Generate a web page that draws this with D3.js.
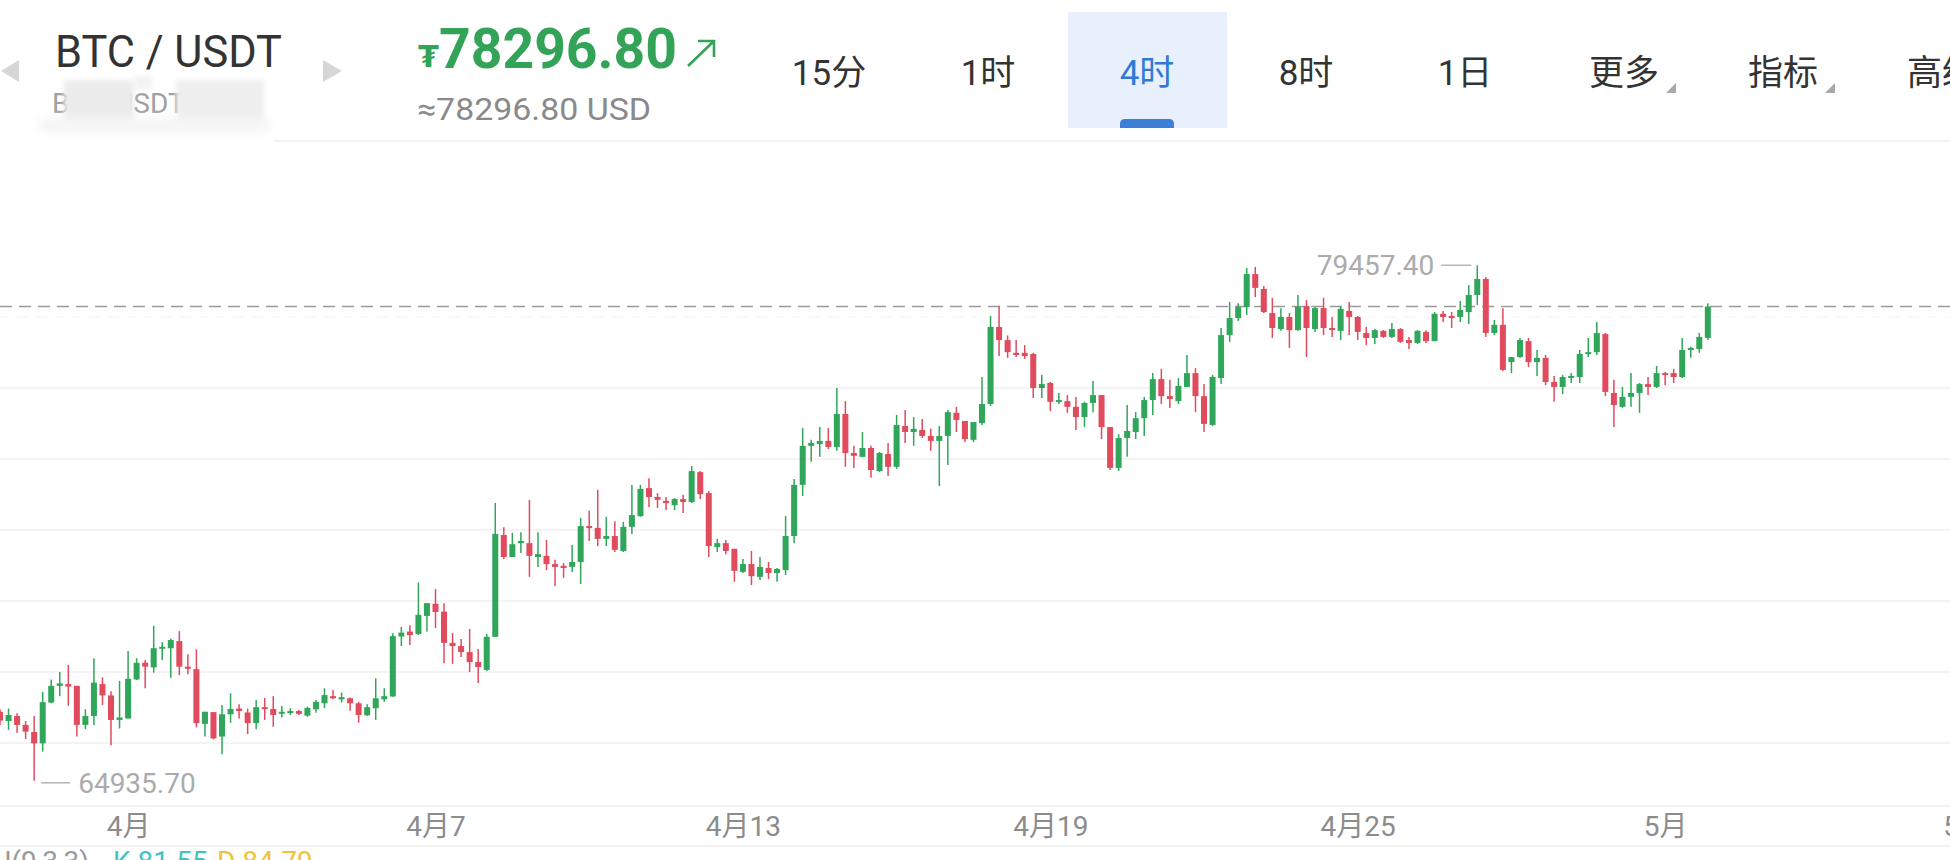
<!DOCTYPE html>
<html><head><meta charset="utf-8">
<script src="https://cdn.jsdelivr.net/npm/d3@7"></script>
<style>html,body{margin:0;padding:0;background:#fff;overflow:hidden}</style>
</head><body>
<svg id="chart" width="1950" height="860"></svg>
<script>
// ---------- DATA (4h candles, BTC/USDT) ----------
const openP = [
66880,66620,66760,66510,66310,65990,67140,67610,67660,67610,
66510,66760,67660,67340,66650,66690,67790,68260,68130,68660,
68670,68870,68150,68080,66540,66870,66180,66810,66970,66860,
66560,67010,66960,66840,66850,66900,66770,66950,67120,67320,
67230,67260,67120,66780,66980,67230,67310,69000,69140,69070,
69580,69920,69700,68820,68730,68560,68280,68060,68990,71860,
71240,71630,71630,71240,71270,71040,70990,70960,71100,72110,
72060,71750,71830,71410,72090,72390,73180,72930,72820,72700,
72870,72790,73630,73040,71520,71630,71470,70820,71040,70680,
70930,70790,70870,71830,73270,74370,74420,74510,74340,75270,
74170,74060,74310,73660,74140,73780,74930,74760,74820,74650,
74510,74650,75300,75070,74540,75010,75550,77720,77350,76990,
76990,76960,76000,76140,75610,75630,75470,75180,75580,75800,
74900,73750,74590,74760,75150,75660,76250,75770,75630,76030,
76420,75770,74960,76280,77490,77970,78280,79210,78790,78110,
77660,78000,77630,78310,77660,78250,77690,77610,78170,78000,
77550,77410,77610,77440,77660,77350,77270,77580,77320,78090,
78030,78000,78140,78620,79070,77550,77780,76730,76870,77320,
76730,76850,76170,76030,76280,76310,76960,77010,77520,75860,
75470,75750,75860,76110,76030,76420,76420,76310,77070,77100,
77410];
const highP = [
66950,66970,66840,66620,66760,67440,67790,68000,68200,67610,
66950,68390,67850,67460,67750,68590,68390,68340,69300,68840,
68940,69150,68500,68640,66880,66870,67070,67400,67090,66970,
67210,67270,67320,67040,66980,66930,67020,67210,67540,67490,
67420,67280,67160,67090,67820,67540,69090,69270,69320,70520,
69940,70340,69940,69100,68930,69210,68650,69070,72760,72080,
71920,71940,72845,71940,71720,71160,71070,71580,72340,72540,
73130,72370,72250,72230,73270,73270,73460,73040,72930,72900,
72990,73800,73660,73100,71750,71720,71470,71180,71410,71240,
71100,70930,72390,73440,74870,74540,74900,74870,76000,75630,
74370,74760,74370,74200,74450,75240,75380,75180,75130,74850,
74930,75380,75470,75070,75040,76310,78030,78310,77480,77350,
77210,76990,76370,76170,75860,75800,75750,75610,76200,75800,
74900,74700,75520,75320,75750,76420,76540,76230,76280,76930,
76560,76110,76370,77690,78420,78390,79380,79410,78870,78540,
78250,78110,78620,78480,78280,78540,78000,78310,78420,78030,
77720,77660,77630,77830,77690,77440,77630,77630,78140,78170,
78140,78450,78900,79457.4,79130,77920,78250,76870,77410,77410,
77070,76930,76340,76370,76420,77070,77410,77860,77550,76230,
76030,76420,76140,76310,76620,76450,76540,77410,77160,77550,
78390];
const lowP = [
66510,66370,66290,66110,64935.7,65760,67120,67320,67050,66180,
66390,66510,67070,65940,66410,66690,67770,67540,67980,68340,
67840,67910,67940,66440,66180,66100,65680,66570,66690,66250,
66390,66650,66460,66720,66790,66790,66740,66850,66980,67230,
67140,66910,66570,66760,66650,67160,67300,68730,68760,69040,
69140,69240,68250,68230,68420,68000,67690,68030,68990,71180,
71240,71350,70680,70960,70870,70420,70650,70820,70480,71690,
71550,71550,71380,71380,71890,72370,72650,72620,72560,72560,
72480,72760,72870,71240,71380,71320,70540,70790,70450,70590,
70620,70540,70730,71630,72960,73920,74060,74280,74230,73780,
73750,74060,73470,73630,73520,73720,74450,74370,74590,74230,
73240,73830,74760,74480,74480,74960,75490,76900,76850,76870,
76820,75720,75720,75350,75550,75300,74820,74900,75320,74560,
73690,73660,74060,74560,74650,75240,75550,75440,75550,76030,
75320,74760,74930,76110,77300,77890,78060,78560,78110,77410,
77610,77130,77610,76870,77580,77490,77440,77350,77490,77350,
77210,77240,77410,77410,77270,77100,77240,77270,77320,77860,
77690,77860,77800,78340,77440,77490,76480,76420,76850,76590,
76340,76080,75610,75830,76140,76140,76870,76930,75770,74900,
75440,75470,75300,75800,76000,76080,76140,76280,76850,76990,
77350];
const closeP = [
66630,66790,66510,66320,65990,67150,67610,67680,67590,66510,
66760,67700,67340,66650,66720,67810,68260,68150,68670,68710,
68900,68150,68090,66560,66880,66130,66810,66960,66900,66560,
67010,66960,66790,66880,66900,66820,66990,67160,67350,67260,
67290,67120,66790,67010,67260,67320,69010,69110,69040,69610,
69940,69690,68820,68730,68560,68280,68140,68990,71890,71240,
71600,71690,71270,71320,71040,70960,70930,71100,72110,72060,
71750,71830,71440,72090,72420,73160,72930,72850,72760,72870,
72790,73660,73010,71550,71630,71410,70850,71040,70700,70960,
70790,70900,71830,73270,74370,74450,74510,74340,75270,74170,
74090,74310,73690,74170,73780,74960,74760,74850,74650,74510,
74650,75320,75100,74560,75040,75550,77720,77350,77010,76930,
76900,76000,76110,75610,75660,75470,75180,75580,75800,74900,
73750,74590,74790,75150,75660,76250,75770,75690,76060,76420,
75770,74990,76310,77490,77970,78280,79210,78820,78140,77690,
78000,77630,78280,77690,78250,77690,77630,78230,78000,77580,
77410,77630,77440,77660,77300,77270,77610,77320,78090,78000,
77970,78200,78620,79070,77550,77780,76510,76870,77350,76730,
76850,76170,76030,76310,76340,76960,77010,77550,75890,75520,
75750,75860,76110,76030,76420,76370,76310,77070,77130,77440,
78296.8];

const tickIndex  = [15, 51, 87, 123, 159, 195, 231];
const tickLabels = ["4月", "4月7", "4月13", "4月19", "4月25", "5月", "5月7"];
const gridPrices = [66000, 68000, 70000, 72000, 74000, 76000];
const faintGridPrices = [78000];
const tabs = ["15分", "1时", "4时", "8时", "1日", "更多", "指标", "高级"];
const activeTab = "4时";
const menuTabs = ["更多", "指标"];
const pairName = "BTC / USDT";
const pairSub = "BTC/USDT永续";
const lastPrice = 78296.80;
const highMark = 79457.40, highIdx = 173;
const lowMark = 64935.70, lowIdx = 4;
const kdjName = "KDJ(9,3,3)", kdjK = "81.55", kdjD = "84.79";

// ---------- DRAW ----------
const W = 1950, H = 860;
const UP = "#2fa65a", DOWN = "#e04b5d";
const FONT = "Roboto, 'Noto Sans CJK SC', 'DejaVu Sans', sans-serif";
const svg = d3.select("#chart").style("font-family", FONT);
const defs = svg.append("defs");
[[2.5,"b3"],[5,"b5"]].forEach(([s,id]) => {
  defs.append("filter").attr("id", id).attr("x","-50%").attr("y","-50%").attr("width","200%").attr("height","200%")
    .append("feGaussianBlur").attr("stdDeviation", s);
});

const candles = d3.range(openP.length).map(i => ({i, o: openP[i], h: highP[i], l: lowP[i], c: closeP[i]}));
const x = d3.scaleLinear().domain([0, 228.36]).range([0, W]);
const y = d3.scaleLinear().domain([66000, 76000]).range([743, 388]);

// grid
svg.append("g").selectAll("line").data(gridPrices).join("line")
  .attr("x1", 0).attr("x2", W).attr("y1", d => y(d)).attr("y2", d => y(d))
  .attr("stroke", "#f1f1f1").attr("stroke-width", 1.5);
svg.append("g").selectAll("line").data(faintGridPrices).join("line")
  .attr("x1", 0).attr("x2", W).attr("y1", d => y(d)).attr("y2", d => y(d))
  .attr("stroke", "#f6f6f6").attr("stroke-width", 1.2).attr("stroke-dasharray", "10,8");

// header separator & axis lines
svg.append("line").attr("x1", 274).attr("x2", W).attr("y1", 141).attr("y2", 141).attr("stroke", "#efefef").attr("stroke-width", 1.5);
svg.append("line").attr("x1", 0).attr("x2", W).attr("y1", 806).attr("y2", 806).attr("stroke", "#efefef").attr("stroke-width", 1.5);
svg.append("line").attr("x1", 0).attr("x2", W).attr("y1", 846).attr("y2", 846).attr("stroke", "#efefef").attr("stroke-width", 1.5);

// current price dashed line
svg.append("line").attr("x1", 0).attr("x2", W).attr("y1", y(lastPrice)).attr("y2", y(lastPrice))
  .attr("stroke", "#9a9a9a").attr("stroke-width", 1.6).attr("stroke-dasharray", "12,7");

// candles
const cg = svg.append("g");
cg.selectAll("line.wick").data(candles).join("line").attr("class", "wick")
  .attr("x1", d => x(d.i)).attr("x2", d => x(d.i))
  .attr("y1", d => y(d.h)).attr("y2", d => y(d.l))
  .attr("stroke", d => d.c >= d.o ? UP : DOWN).attr("stroke-width", 1.5);
cg.selectAll("rect.body").data(candles).join("rect").attr("class", "body")
  .attr("x", d => x(d.i) - 3).attr("width", 6)
  .attr("y", d => y(Math.max(d.o, d.c)))
  .attr("height", d => Math.max(2, Math.abs(y(d.o) - y(d.c))))
  .attr("fill", d => d.c >= d.o ? UP : DOWN);

// high / low markers
const hx = x(highIdx), hy = y(highMark);
svg.append("line").attr("x1", hx - 36).attr("x2", hx - 6).attr("y1", hy).attr("y2", hy).attr("stroke", "#b5b5b5").attr("stroke-width", 1.5);
svg.append("text").attr("x", hx - 43).attr("y", hy).attr("dy", "0.36em").attr("text-anchor", "end")
  .attr("font-size", 28).attr("fill", "#ababab").text(highMark.toFixed(2));
const lx = x(lowIdx), ly = y(lowMark) + 2;
svg.append("line").attr("x1", lx + 7).attr("x2", lx + 36).attr("y1", ly).attr("y2", ly).attr("stroke", "#b5b5b5").attr("stroke-width", 1.5);
svg.append("text").attr("x", lx + 44).attr("y", ly).attr("dy", "0.36em")
  .attr("font-size", 28).attr("fill", "#ababab").text(lowMark.toFixed(2));

// x axis
const xAxis = d3.axisBottom(x).tickValues(tickIndex).tickFormat((d, i) => tickLabels[i]).tickSize(0).tickPadding(10);
const ax = svg.append("g").attr("transform", "translate(0,806)").call(xAxis);
ax.select(".domain").remove();
ax.selectAll("text").attr("font-size", 28).attr("fill", "#8c8c8c").attr("font-family", FONT);

// bottom indicator line (cut off by the frame, as in the reference)
const kd = svg.append("text").attr("y", 871).attr("font-size", 28);
kd.append("tspan").attr("x", -40).attr("fill", "#9a9a9a").text(kdjName);
kd.append("tspan").attr("x", 113).attr("fill", "#45c2c0").text("K " + kdjK);
kd.append("tspan").attr("x", 217).attr("fill", "#eec23a").text("D " + kdjD);

// ---------- HEADER ----------
svg.append("polygon").attr("points", "19,60 1,71 19,82").attr("fill", "#d6d6d6");
svg.append("polygon").attr("points", "323,60 342,71 323,82").attr("fill", "#d6d6d6");
svg.append("text").attr("x", 55).attr("y", 67).attr("font-size", 45).attr("fill", "#333")
  .attr("textLength", 227).attr("lengthAdjust", "spacingAndGlyphs").text(pairName);
svg.append("text").attr("x", 52).attr("y", 113).attr("font-size", 28).attr("fill", "#a0a0a0").text(pairSub);
// blurred mosaic overlay
const bl = svg.append("g");
bl.append("rect").attr("x", 64).attr("y", 80).attr("width", 70).attr("height", 42).attr("fill", "#ececec").attr("filter", "url(#b3)");
bl.append("rect").attr("x", 134).attr("y", 76).attr("width", 18).attr("height", 14).attr("fill", "#f3f3f3").attr("filter", "url(#b3)");
bl.append("rect").attr("x", 176).attr("y", 80).attr("width", 88).attr("height", 42).attr("fill", "#eeeeee").attr("filter", "url(#b3)");
bl.append("rect").attr("x", 40).attr("y", 118).attr("width", 230).attr("height", 14).attr("fill", "#f5f5f5").attr("filter", "url(#b5)");

// price
svg.append("text").attr("x", 418).attr("y", 67).attr("font-size", 30).attr("font-weight", 700).attr("fill", "#33a457").text("₮");
svg.append("text").attr("x", 439).attr("y", 68).attr("font-size", 56).attr("font-weight", 700).attr("fill", "#33a457")
  .attr("textLength", 238).attr("lengthAdjust", "spacingAndGlyphs").text(lastPrice.toFixed(2));
svg.append("path").attr("d", "M688,66 L714,41 M698,41 L714,41 L714,57").attr("fill", "none").attr("stroke", "#33a457").attr("stroke-width", 2.6);
svg.append("text").attr("x", 417).attr("y", 120).attr("font-size", 31).attr("fill", "#8a8a8a")
  .attr("textLength", 234).attr("lengthAdjust", "spacingAndGlyphs").text("≈" + lastPrice.toFixed(2) + " USD");

// tabs
const tx = d3.scalePoint().domain(tabs).range([829, 1942]);
svg.append("rect").attr("x", tx(activeTab) - 79).attr("y", 12).attr("width", 159).attr("height", 116).attr("fill", "#e7f0fc");
svg.append("path").attr("d", `M${tx(activeTab)-27},128 v-4 q0,-5 5,-5 h44 q5,0 5,5 v4 z`).attr("fill", "#3b7fd9");
svg.append("g").selectAll("text").data(tabs).join("text")
  .attr("x", d => tx(d)).attr("y", 85).attr("text-anchor", "middle").attr("font-size", 35)
  .attr("fill", d => d === activeTab ? "#2f7ad6" : "#333").text(d => d);
svg.append("g").selectAll("path").data(menuTabs).join("path")
  .attr("d", d => { const cx = tx(d) + 52; return `M${cx-10},93 L${cx},93 L${cx},83 Z`; })
  .attr("fill", "#a8a8a8");
</script>
</body></html>
